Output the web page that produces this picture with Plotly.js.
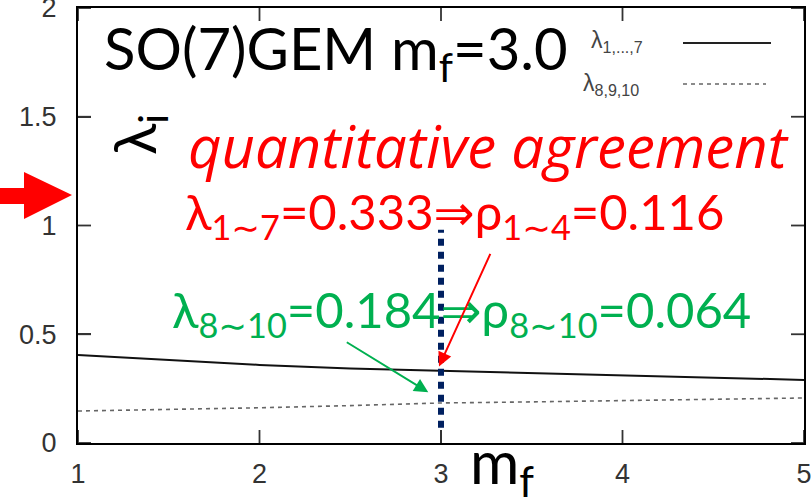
<!DOCTYPE html>
<html>
<head>
<meta charset="utf-8">
<script src="https://cdn.plot.ly/plotly-3.0.1.min.js"></script>
<style>html,body{margin:0;padding:0;background:#fff;}#chart{width:811px;height:498px;}</style>
</head>
<body>
<div id="chart"></div>
<script>
// ---- data ----
const mf = [1, 1.5, 2, 2.5, 3, 3.5, 4, 4.5, 5];
const lambda1to7 = [0.405, 0.382, 0.359, 0.343, 0.333, 0.320, 0.311, 0.302, 0.290];
const lambda8to10 = [0.147, 0.153, 0.162, 0.172, 0.184, 0.189, 0.194, 0.200, 0.207];
const xTicks = [1, 2, 3, 4, 5];
const yTicks = [0, 0.5, 1, 1.5, 2];
const markX = 3.0;      // vertical dotted marker at m_f = 3
const markTop = 0.98;
const markBottom = 0.07;

// ---- layout constants ----
const W = 811, H = 498;
const M = {l: 78, r: 7, t: 8, b: 55};
const PW = W - M.l - M.r, PH = H - M.t - M.b;
const px = x => (x - M.l) / PW;
const py = y => (H - M.b - y) / PH;
const TICKLEN = 13;

const TXT = 'Lato, "DejaVu Sans", sans-serif';
const GNU = '"Liberation Sans", Arial, sans-serif';

function ann(text, x, y, size, color, opts) {
  return Object.assign({
    xref: 'paper', yref: 'paper', x: px(x), y: py(y),
    xanchor: 'left', yanchor: 'middle', showarrow: false,
    text: text, font: {family: TXT, size: size, color: color}
  }, opts || {});
}

const traces = [
  {x: mf, y: lambda1to7, mode: 'lines', line: {color: '#111', width: 2}, showlegend: false, hoverinfo: 'skip'},
  {x: mf, y: lambda8to10, mode: 'lines', line: {color: '#666', width: 1.6, dash: '4px,4px'}, showlegend: false, hoverinfo: 'skip'}
];

const annotations = [
  ann('SO(7)GEM m<sub>f</sub>=3.0', 102, 52, 58, '#000'),
  ann('λ<sub>i</sub>', 138, 135, 58, '#000', {xanchor: 'center', textangle: -90}),
  ann('<i>quantitative agreement</i>', 186, 145, 58, '#ff0000',
      {font: {family: '"Open Sans", sans-serif', size: 58, color: '#ff0000'}}),
  ann('λ<sub>1∼7</sub>=0.333⇒ρ<sub>1∼4</sub>=0.116', 183, 214, 49, '#ff0000'),
  ann('λ<sub>8∼10</sub>=0.184⇒ρ<sub>8∼10</sub>=0.064', 170, 312, 49, '#00b050'),
  ann('m<sub>f</sub>', 468, 465, 60, '#000'),
  ann('λ<sub>1,...,7</sub>', 589, 41, 23, '#444', {font: {family: GNU, size: 23, color: '#444'}}),
  ann('λ<sub>8,9,10</sub>', 581, 84, 23, '#444', {font: {family: GNU, size: 23, color: '#444'}}),
  // red pointer to lambda_1..7 curve
  {xref: 'x', yref: 'y', x: 2.989, y: 0.352, ax: 52, ay: -114, axref: 'pixel', ayref: 'pixel',
   text: '', showarrow: true, arrowcolor: '#ff0000', arrowwidth: 2, arrowhead: 2, arrowsize: 1.4},
  // green pointer to lambda_8..10 curve
  {xref: 'x', yref: 'y', x: 2.93, y: 0.233, ax: -83, ay: -51, axref: 'pixel', ayref: 'pixel',
   text: '', showarrow: true, arrowcolor: '#00b050', arrowwidth: 2, arrowhead: 2, arrowsize: 1.4}
];

const arrowPts = [[0,188],[24,188],[24,172],[72,195],[24,219],[24,204],[0,204]];
const arrowPath = arrowPts.map((p, i) => (i ? 'L' : 'M') + px(p[0]) + ',' + py(p[1])).join(' ') + ' Z';

const tickLine = {color: '#333', width: 1.8};
const tickShapes = [];
xTicks.forEach(v => {
  tickShapes.push({type: 'line', xref: 'x', yref: 'paper', x0: v, x1: v, y0: 0, y1: TICKLEN / PH, line: tickLine});
  tickShapes.push({type: 'line', xref: 'x', yref: 'paper', x0: v, x1: v, y0: 1, y1: 1 - TICKLEN / PH, line: tickLine});
});
yTicks.forEach(v => {
  tickShapes.push({type: 'line', xref: 'paper', yref: 'y', x0: 0, x1: TICKLEN / PW, y0: v, y1: v, line: tickLine});
  tickShapes.push({type: 'line', xref: 'paper', yref: 'y', x0: 1, x1: 1 - TICKLEN / PW, y0: v, y1: v, line: tickLine});
});

const shapes = tickShapes.concat([
  {type: 'line', xref: 'x', yref: 'y', x0: markX, x1: markX, y0: markBottom, y1: markTop,
   line: {color: '#002060', width: 6, dash: '7px,6px'}},
  {type: 'line', xref: 'paper', yref: 'paper', x0: px(683), x1: px(771), y0: py(43), y1: py(43),
   line: {color: '#222', width: 2}},
  {type: 'line', xref: 'paper', yref: 'paper', x0: px(683), x1: px(766), y0: py(84), y1: py(84),
   line: {color: '#666', width: 1.5, dash: '4px,4px'}},
  {type: 'path', xref: 'paper', yref: 'paper', path: arrowPath, fillcolor: '#ff0000',
   line: {width: 0}, layer: 'above'}
]);

const axisCommon = {
  showline: true, linecolor: '#000', linewidth: 2, mirror: true,
  ticks: 'inside', ticklen: TICKLEN, tickwidth: 1.8, tickcolor: '#333',
  showgrid: false, zeroline: false, ticklabeloverflow: 'allow',
  tickfont: {family: GNU, size: 27, color: '#333'}
};

const layout = {
  width: W, height: H, margin: M,
  paper_bgcolor: '#fff', plot_bgcolor: '#fff', showlegend: false,
  xaxis: Object.assign({}, axisCommon, {range: [1, 5], tickvals: xTicks, ticktext: xTicks.map(String), ticklabelstandoff: 6}),
  yaxis: Object.assign({}, axisCommon, {range: [0, 2], tickvals: yTicks, ticktext: yTicks.map(String), ticklabelstandoff: 14}),
  annotations: annotations, shapes: shapes
};

Plotly.newPlot('chart', traces, layout, {staticPlot: true, displayModeBar: false});
</script>
</body>
</html>
